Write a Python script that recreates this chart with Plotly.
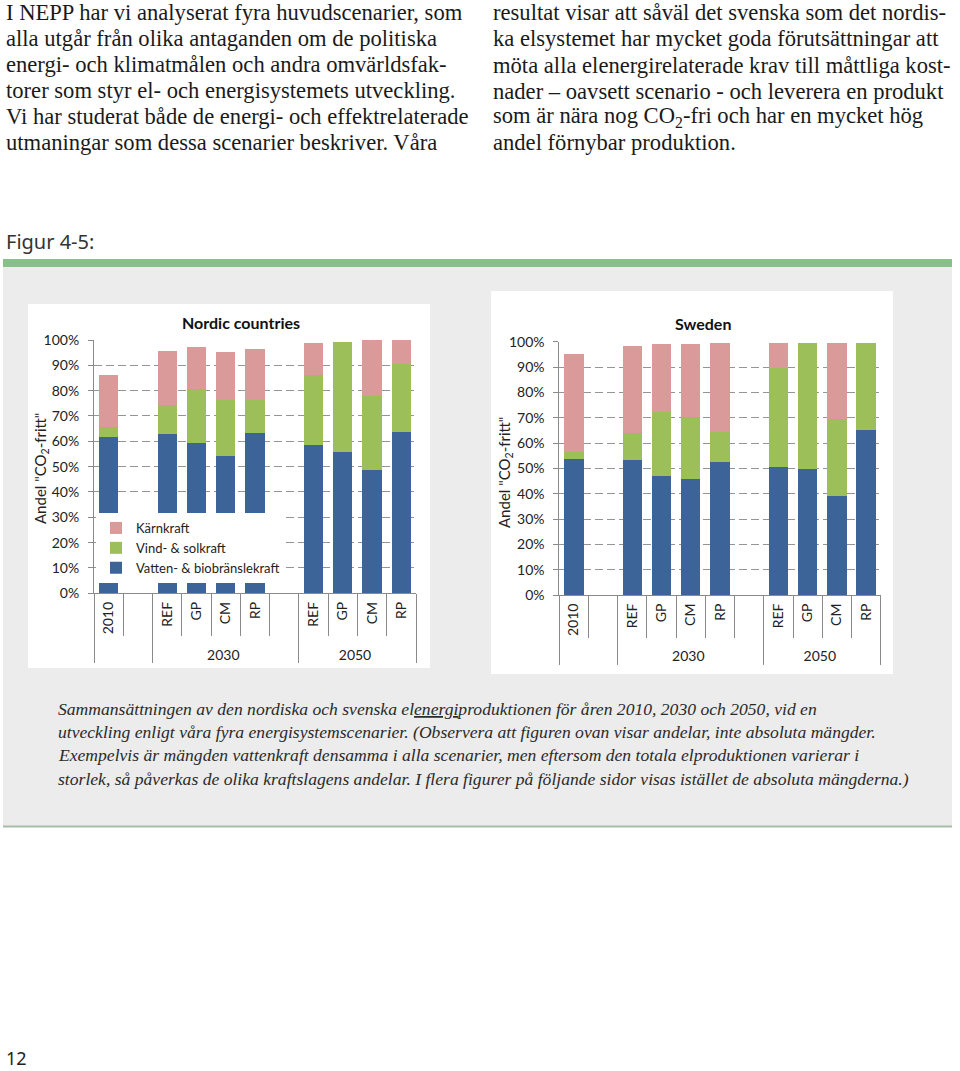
import plotly.graph_objects as go

# ---------------- data ----------------
groups = [" ", " ", "2030", "2030", "2030", "2030", "2030", "2050", "2050", "2050", "2050"]
scenarios = ["2010", " ", "REF", "GP", "CM", "RP", "  ", "REF", "GP", "CM", "RP"]

series_names = ["Vatten- & biobränslekraft", "Vind- & solkraft", "Kärnkraft"]
series_colors = ["#3d6499", "#9dbf5a", "#da9a99"]

nordic_vatten = [61.8, None, 62.9, 59.2, 54.2, 63.4, None, 58.4, 55.7, 48.8, 63.7]
nordic_vind = [3.7, None, 11.3, 21.3, 22.1, 12.9, None, 27.9, 43.4, 29.0, 26.8]
nordic_karn = [20.7, None, 21.5, 16.9, 19.1, 20.0, None, 12.4, 0, 22.1, 9.5]

sweden_vatten = [53.7, None, 53.4, 46.8, 45.8, 52.6, None, 50.7, 49.9, 39.1, 65.3]
sweden_vind = [2.7, None, 10.4, 25.3, 24.6, 11.7, None, 39.0, 49.7, 30.5, 34.0]
sweden_karn = [38.7, None, 34.6, 26.8, 28.5, 35.0, None, 9.9, 0, 30.0, 0]

y_ticks = [0, 10, 20, 30, 40, 50, 60, 70, 80, 90, 100]
y_tick_labels = ["0%", "10%", "20%", "30%", "40%", "50%", "60%", "70%", "80%", "90%", "100%"]

chart_titles = ["Nordic countries", "Sweden"]
y_title = 'Andel "CO<sub>2</sub>-fritt"'

left_text = [
    "I NEPP har vi analyserat fyra huvudscenarier, som",
    "alla utgår från olika antaganden om de politiska",
    "energi- och klimatmålen och andra omvärldsfak-",
    "torer som styr el- och energisystemets utveckling.",
    "Vi har studerat både de energi- och effektrelaterade",
    "utmaningar som dessa scenarier beskriver. Våra",
]
right_text = [
    "resultat visar att såväl det svenska som det nordis-",
    "ka elsystemet har mycket goda förutsättningar att",
    "möta alla elenergirelaterade krav till måttliga kost-",
    "nader – oavsett scenario - och leverera en produkt",
    "som är nära nog CO<sub>2</sub>-fri och har en mycket hög",
    "andel förnybar produktion.",
]
caption = [
    "Sammansättningen av den nordiska och svenska el<u>energi</u>produktionen för åren 2010, 2030 och 2050, vid en",
    "utveckling enligt våra fyra energisystemscenarier. (Observera att figuren ovan visar andelar, inte absoluta mängder.",
    "Exempelvis är mängden vattenkraft densamma i alla scenarier, men eftersom den totala elproduktionen varierar i",
    "storlek, så påverkas de olika kraftslagens andelar. I flera figurer på följande sidor visas istället de absoluta mängderna.)",
]
fig_label = "Figur 4-5:"
page_number = "12"

# ---------------- helpers ----------------
W, H = 960, 1071


def px(x):
    return x / W


def py(y):
    return 1 - y / H


CHART_FONT = "Lato, 'Open Sans', sans-serif"
SERIF = "'Liberation Serif', 'DejaVu Serif', serif"
AXC = "#8a8a8a"

fig = go.Figure()

nordic = [nordic_vatten, nordic_vind, nordic_karn]
sweden = [sweden_vatten, sweden_vind, sweden_karn]

for i, (name, color) in enumerate(zip(series_names, series_colors)):
    fig.add_trace(go.Bar(
        x=[groups, scenarios], y=nordic[i], name=name,
        marker=dict(color=color, line=dict(width=0)),
        xaxis="x", yaxis="y", legendgroup=name, showlegend=True,
    ))
for i, (name, color) in enumerate(zip(series_names, series_colors)):
    fig.add_trace(go.Bar(
        x=[groups, scenarios], y=sweden[i], name=name,
        marker=dict(color=color, line=dict(width=0)),
        xaxis="x2", yaxis="y2", legendgroup=name, showlegend=False,
    ))

xaxis_common = dict(
    type="multicategory", showline=True, linecolor=AXC, linewidth=1,
    ticks="outside", ticklen=42, tickcolor=AXC, tickwidth=1,
    tickangle=-90, showdividers=True, dividercolor=AXC, dividerwidth=1,
    tickfont=dict(family=CHART_FONT, size=14, color="#222"),
    showgrid=False, fixedrange=True, ticklabelstandoff=2, automargin=False,
)
yaxis_common = dict(
    range=[0, 100], tickvals=y_ticks, ticktext=y_tick_labels,
    showgrid=True, gridcolor="#959595", griddash="8px,4px", gridwidth=1,
    showline=True, linecolor=AXC, linewidth=1, zeroline=False,
    ticks="outside", ticklen=5, tickcolor=AXC,
    tickfont=dict(family=CHART_FONT, size=14, color="#222"),
    ticklabelstandoff=6, fixedrange=True, automargin=False,
)

shapes = [
    # green rule
    dict(type="rect", xref="paper", yref="paper", x0=px(3), x1=px(952), y0=py(267), y1=py(259),
         fillcolor="#88c08a", line=dict(width=0), layer="below"),
    # grey panel
    dict(type="rect", xref="paper", yref="paper", x0=px(3), x1=px(952), y0=py(827), y1=py(267),
         fillcolor="#ebeceb", line=dict(width=0), layer="below"),
    # bottom rule of panel
    dict(type="line", xref="paper", yref="paper", x0=px(3), x1=px(952), y0=py(826.5), y1=py(826.5),
         line=dict(color="#a9bba9", width=2), layer="below"),
    # white chart boxes
    dict(type="rect", xref="paper", yref="paper", x0=px(28), x1=px(430), y0=py(668), y1=py(304),
         fillcolor="white", line=dict(width=0), layer="below"),
    dict(type="rect", xref="paper", yref="paper", x0=px(491), x1=px(893), y0=py(674), y1=py(291),
         fillcolor="white", line=dict(width=0), layer="below"),
]

annotations = []
# body text
for i, t in enumerate(left_text):
    annotations.append(dict(text=t, x=px(4), y=py(13 + i * 25.9), xref="paper", yref="paper",
                            xanchor="left", yanchor="middle", showarrow=False,
                            font=dict(family=SERIF, size=22.6, color="#1a1a1a")))
for i, t in enumerate(right_text):
    annotations.append(dict(text=t, x=px(491), y=py(13 + i * 26.0), xref="paper", yref="paper",
                            xanchor="left", yanchor="middle", showarrow=False,
                            font=dict(family=SERIF, size=22.6, color="#1a1a1a")))
# figure label
annotations.append(dict(text=fig_label, x=px(4), y=py(242), xref="paper", yref="paper",
                        xanchor="left", yanchor="middle", showarrow=False,
                        font=dict(family="'Noto Sans', sans-serif", size=20, color="#333")))
# caption
for i, t in enumerate(caption):
    annotations.append(dict(text="<i>" + t + "</i>", x=px(56), y=py(709 + i * 23.2), xref="paper", yref="paper",
                            xanchor="left", yanchor="middle", showarrow=False,
                            font=dict(family=SERIF, size=17.6, color="#2a2a2a")))
# page number
annotations.append(dict(text=page_number, x=px(5), y=py(1070.5), xref="paper", yref="paper",
                        xanchor="left", yanchor="bottom", showarrow=False, borderpad=0,
                        font=dict(family="'Noto Sans', sans-serif", size=18, color="#222")))
# chart titles
annotations.append(dict(text="<b>" + chart_titles[0] + "</b>", x=px(241), y=py(322), xref="paper", yref="paper",
                        xanchor="center", yanchor="middle", showarrow=False,
                        font=dict(family=CHART_FONT, size=16, color="#111")))
annotations.append(dict(text="<b>" + chart_titles[1] + "</b>", x=px(703), y=py(323), xref="paper", yref="paper",
                        xanchor="center", yanchor="middle", showarrow=False,
                        font=dict(family=CHART_FONT, size=16, color="#111")))
# y titles
annotations.append(dict(text=y_title, x=px(41), y=py(469), xref="paper", yref="paper", textangle=-90,
                        xanchor="center", yanchor="middle", showarrow=False,
                        font=dict(family=CHART_FONT, size=15, color="#222")))
annotations.append(dict(text=y_title, x=px(505), y=py(472), xref="paper", yref="paper", textangle=-90,
                        xanchor="center", yanchor="middle", showarrow=False,
                        font=dict(family=CHART_FONT, size=15, color="#222")))

fig.update_layout(
    width=W, height=H, autosize=False,
    margin=dict(l=0, r=0, t=0, b=0, pad=0, autoexpand=False),
    paper_bgcolor="white", plot_bgcolor="rgba(0,0,0,0)",
    barmode="stack", bargap=0.34,
    xaxis=dict(domain=[px(94), px(416)], anchor="y", **xaxis_common),
    yaxis=dict(domain=[py(593.3), py(340)], anchor="x", **yaxis_common),
    xaxis2=dict(domain=[px(559.3), px(880.7)], anchor="y2", **xaxis_common),
    yaxis2=dict(domain=[py(595), py(341.7)], anchor="x2", **yaxis_common),
    legend=dict(x=px(96), y=py(513), xanchor="left", yanchor="top", bgcolor="white",
                traceorder="reversed", font=dict(family=CHART_FONT, size=13, color="#222"),
                itemclick=False, itemdoubleclick=False, tracegroupgap=0),
    shapes=shapes, annotations=annotations, showlegend=True,
)

fig.write_html(
    "out.html",
    config={"displayModeBar": False, "staticPlot": True},
    post_script=(
        "document.documentElement.style.margin='0';"
        "document.body.style.margin='0';document.body.style.padding='0';"
        "document.documentElement.style.overflow='hidden';"
        "var d=document.getElementsByClassName('plotly-graph-div')[0];"
        "d.style.position='fixed';d.style.top='0px';d.style.left='0px';"
    ),
)
